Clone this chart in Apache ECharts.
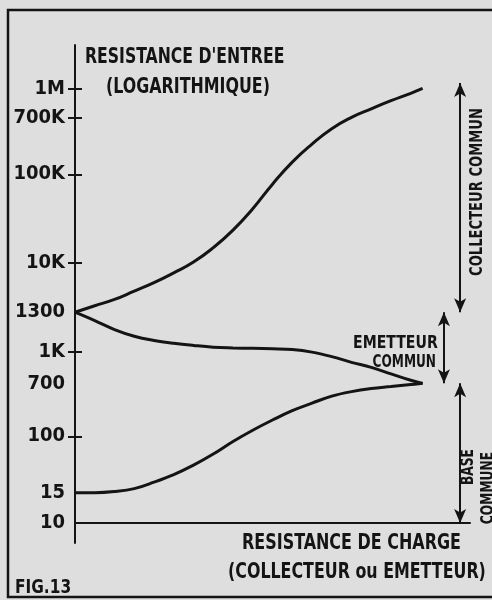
<!DOCTYPE html>
<html>
<head>
<meta charset="utf-8">
<script src="https://cdn.jsdelivr.net/npm/echarts@6/dist/echarts.min.js"></script>
<style>
  html, body { margin: 0; padding: 0; background: #dedede; }
  #chart { width: 492px; height: 600px; }
</style>
</head>
<body>
<div id="chart"></div>
<script>
// Load resistance, arbitrary linear units (no graduations on this axis)
const loadSteps = [0, 0.5, 1, 1.5, 2, 2.5, 3, 3.5, 4, 4.5, 5, 5.5, 6, 6.5, 7, 7.5, 8, 8.5, 8.8];

// Input resistance (ohms) for each configuration
const collecteurCommun = [1300, 1700, 2200, 3100, 4400, 6600, 10200, 14800, 23400, 40800, 77300, 152000, 283000, 482000, 705000, 784000, 867000, 951000, 1010000];
const emetteurCommun = [1300, 1230, 1160, 1110, 1080, 1060, 1045, 1033, 1028, 1025, 1022, 1017, 1000, 950, 890, 840, 780, 725, 700];
const baseCommune = [15, 15, 15.6, 17.2, 21.4, 27.6, 37.9, 55, 84, 125, 182, 257, 338, 438, 517, 578, 622, 670, 700];

// Graduations of the input resistance axis
const tickValues = [10, 15, 100, 700, 1000, 1300, 10000, 100000, 700000, 1000000];
const tickLabels = ['10', '15', '100', '700', '1K', '1300', '10K', '100K', '700K', '1M'];
const tickMarked = [100, 1000, 10000, 100000, 700000, 1000000];

// Schematic logarithmic scale: each graduation sits at its own height
// (in decades above 10 ohms), log-interpolated in between.
const scaleAnchors = [[10, 0], [15, 0.35], [100, 1], [700, 1.61], [1000, 1.97], [1300, 2.43],
                      [10000, 3], [100000, 4.02], [700000, 4.67], [1000000, 5]];

function warp(v) {
  const l = Math.log10(v);
  const a = scaleAnchors;
  let i = 0;
  while (i < a.length - 2 && l > Math.log10(a[i + 1][0])) i++;
  const l0 = Math.log10(a[i][0]), l1 = Math.log10(a[i + 1][0]);
  return a[i][1] + (l - l0) / (l1 - l0) * (a[i + 1][1] - a[i][1]);
}

function labelFor(pos) {
  for (let k = 0; k < tickValues.length; k++) {
    if (Math.abs(warp(tickValues[k]) - pos) < 1e-6) return tickLabels[k];
  }
  return '';
}

const toPoints = (vals) => vals.map((v, k) => [loadSteps[k], warp(v)]);

const INK = '#141414';
const FONT = '"DejaVu Sans Condensed", "Liberation Sans Narrow", sans-serif';

const chart = echarts.init(document.getElementById('chart'), null, { renderer: 'canvas' });

const labelPositions = tickValues.map(warp);
const tickPositions = tickMarked.map(warp);

const lineStyle = { color: INK, width: 3 };

const arrowEnd = (x, v) => ({ coord: [x, warp(v)], symbol: 'arrow', symbolSize: [9, 14] });
const plainEnd = (x, v) => ({ coord: [x, warp(v)], symbol: 'none' });

// Lettering helper: condensed text anchored at (x, y)
function lettering(text, x, y, size, squeeze, opts) {
  opts = opts || {};
  return {
    type: 'text', x: x, y: y, silent: true,
    rotation: opts.rotation || 0,
    scaleX: squeeze, scaleY: 1,
    style: {
      text: text, font: 'bold ' + size + 'px ' + FONT, fill: INK,
      align: opts.align || 'left', verticalAlign: 'middle'
    }
  };
}

chart.setOption({
  backgroundColor: '#dedede',
  animation: false,
  grid: { left: 75, right: 22, top: 45, bottom: 57, containLabel: false },
  xAxis: {
    type: 'value', min: 0, max: 10,
    axisLine: { show: true, onZero: true, lineStyle: { color: INK, width: 2 } },
    axisTick: { show: false }, axisLabel: { show: false }, splitLine: { show: false }
  },
  yAxis: [
    {
      type: 'value', min: -0.23, max: 5.51,
      axisLine: { show: true, onZero: false, lineStyle: { color: INK, width: 2 } },
      axisTick: { show: true, length: 7, customValues: tickPositions, lineStyle: { color: INK, width: 2 } },
      axisLabel: {
        show: true, customValues: labelPositions, margin: 10,
        color: INK, fontFamily: FONT, fontSize: 20, fontWeight: 'bold',
        formatter: (v) => labelFor(v)
      },
      splitLine: { show: false }
    },
    {
      type: 'value', min: -0.23, max: 5.51, position: 'left',
      axisLine: { show: false },
      axisTick: { show: true, inside: true, length: 7, customValues: tickPositions, lineStyle: { color: INK, width: 2 } },
      axisLabel: { show: false },
      splitLine: { show: false }
    }
  ],
  series: [
    {
      name: 'COLLECTEUR COMMUN', type: 'line', smooth: 0.5, symbol: 'none', clip: false,
      data: toPoints(collecteurCommun), lineStyle,
      markLine: {
        silent: true,
        label: { show: false },
        lineStyle: { color: INK, width: 2.5, type: [10, 6] },
        data: [
          [plainEnd(0.45, 1300), plainEnd(10.2, 1300)],
          [plainEnd(0, 700), plainEnd(10.15, 700)]
        ]
      }
    },
    {
      name: 'EMETTEUR COMMUN', type: 'line', smooth: 0.4, symbol: 'none', clip: false,
      data: toPoints(emetteurCommun), lineStyle,
      markLine: {
        silent: true,
        label: { show: false },
        lineStyle: { color: INK, width: 2, type: 'solid' },
        data: [
          [arrowEnd(9.75, 1300), arrowEnd(9.75, 1080000)],
          [arrowEnd(9.34, 1300), arrowEnd(9.34, 700)],
          [arrowEnd(9.75, 700), arrowEnd(9.75, 10)]
        ]
      }
    },
    {
      name: 'BASE COMMUNE', type: 'line', smooth: 0.4, symbol: 'none', clip: false,
      data: toPoints(baseCommune), lineStyle
    }
  ],
  graphic: [
    { type: 'rect', silent: true, shape: { x: 8, y: 10, width: 500, height: 587 },
      style: { fill: 'none', stroke: INK, lineWidth: 2.5 } },
    lettering("RESISTANCE D'ENTREE", 85, 58, 21, 0.83),
    lettering('(LOGARITHMIQUE)', 106, 88, 21, 0.84),
    lettering('RESISTANCE DE CHARGE', 242, 544, 21, 0.845),
    lettering('(COLLECTEUR ou EMETTEUR)', 228, 573, 21, 0.84),
    lettering('FIG.13', 15, 588, 19, 0.9),
    lettering('EMETTEUR', 353, 343, 18, 0.87),
    lettering('COMMUN', 436, 362, 18, 0.75, { align: 'right' }),
    lettering('COLLECTEUR COMMUN', 477, 192, 18, 0.81, { align: 'center', rotation: Math.PI / 2 }),
    lettering('BASE', 469, 467, 17, 0.8, { align: 'center', rotation: Math.PI / 2 }),
    lettering('COMMUNE', 489, 488, 17, 0.8, { align: 'center', rotation: Math.PI / 2 })
  ]
});
</script>
</body>
</html>
